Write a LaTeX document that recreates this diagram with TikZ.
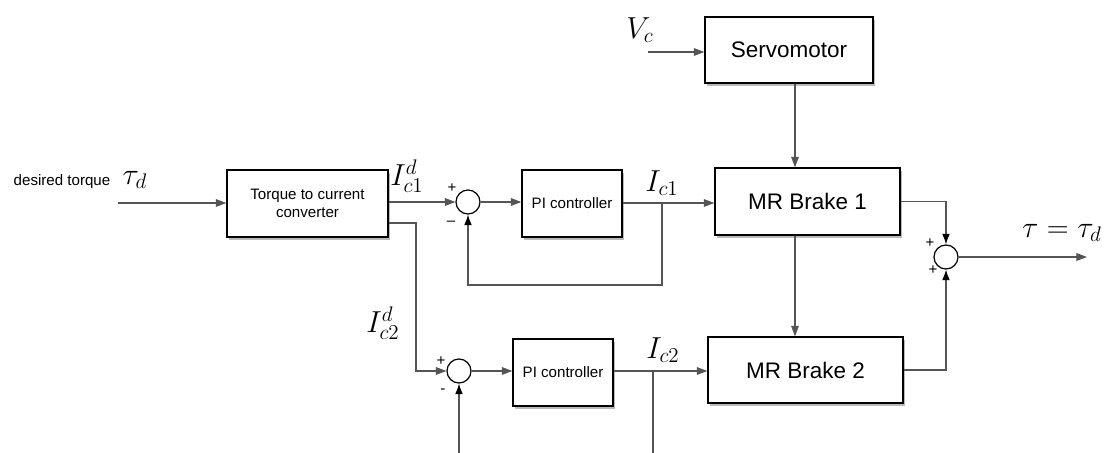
\documentclass[tikz,border=0pt]{standalone}
\usepackage[no-math]{fontspec}
\setmainfont{Liberation Sans}
\usepackage{amsmath,amssymb}
\usepackage{xcolor}
\usetikzlibrary{calc, arrows.meta, shadows, positioning}
\definecolor{wire}{HTML}{555555}
\begin{document}
\begin{tikzpicture}[x=0.02cm, y=-0.02cm,
  blk/.style={draw, line width=0.8pt, fill=white, align=center,
    drop shadow={shadow xshift=1.2pt, shadow yshift=-1.5pt, fill=black!45, opacity=0.6}},
  sumj/.style={draw, circle, line width=0.7pt, minimum size=0.48cm, inner sep=0pt, fill=white},
  sig/.style={draw=wire, line width=0.6pt, -{Triangle[length=6pt,width=4.4pt]}, color=wire},
  fb/.style={draw=wire, line width=0.6pt, -{Latex[length=6pt,width=4.4pt,color=black]}},
  small/.style={font=\fontsize{8.6}{10}\selectfont},
  big/.style={font=\fontsize{12.8}{15}\selectfont},
  mlab/.style={font=\fontsize{17.5}{20}\selectfont, inner sep=0pt}]
  \useasboundingbox (0,0) rectangle (1107,453);
  % Blocks
  \node[blk, big, minimum width=3.36cm, minimum height=1.32cm] (servo) at (789,50) {Servomotor};
  \node[blk, big, minimum width=3.7cm, minimum height=1.34cm] (brake1) at (807.5,201.5) {MR Brake 1};
  \node[blk, big, minimum width=3.9cm, minimum height=1.32cm] (brake2) at (805.5,370) {MR Brake 2};
  \node[blk, small, minimum width=3.22cm, minimum height=1.34cm] (conv) at (307.5,203.5) {Torque to current\\converter};
  \node[blk, small, minimum width=2cm, minimum height=1.34cm] (pi1) at (572,203.5) {PI controller};
  \node[blk, small, minimum width=2cm, minimum height=1.34cm] (pi2) at (563,372.5) {PI controller};
  % Summing junctions
  \node[sumj] (sum1) at (468,202) {};
  \node[sumj] (sum2) at (459,371) {};
  \node[sumj] (sum3) at (946,257) {};
  % Free ends and taps
  \coordinate (tin) at (118,203);
  \coordinate (vc) at (648,52);
  \coordinate (vx) at (795,0);
  \coordinate (k2) at (416,223);
  \coordinate (tap1) at (662,203);
  \coordinate (fb1) at (662,285);
  \coordinate (tap2) at (653,371);
  \coordinate (end2) at (653,453);
  \coordinate (fb2) at (459,453);
  \coordinate (tout) at (1087,257);
  % Signals
  \draw[sig] (tin) -- (conv.west |- tin);
  \draw[sig] (conv.east |- sum1) -- (sum1.west);
  \draw[sig] (sum1.east) -- (pi1.west |- sum1);
  \draw[sig] (pi1.east |- tap1) -- (brake1.west |- tap1);
  \draw[sig] (conv.east |- k2) -- (k2) |- (sum2.west);
  \draw[sig] (sum2.east) -- (pi2.west |- sum2);
  \draw[sig] (pi2.east |- tap2) -- (brake2.west |- tap2);
  \draw[sig] (vc) -- (servo.west |- vc);
  \draw[sig] (servo.south -| vx) -- (brake1.north -| vx);
  \draw[sig] (brake1.south -| vx) -- (brake2.north -| vx);
  \draw[fb] (brake1.east) -| (sum3.north);
  \draw[fb] (brake2.east) -| (sum3.south);
  \draw[sig] (sum3.east) -- (tout);
  % Feedback
  \draw[fb] (tap1) -- (fb1) -| (sum1.south);
  \draw[fb] (fb2) -- (sum2.south);
  \draw[draw=wire, line width=0.6pt] (tap2) -- (end2);
  % Labels
  \node[small] (ldes) at (62,182) {desired torque};
  \node[mlab] (ltd) at (135,180) {$\tau_d$};
  \node[mlab] (lvc) at (640,30) {$V_c$};
  \node[mlab] (lic1d) at (407,176) {$I_{c1}^{d}$};
  \node[mlab] (lic1) at (662,183) {$I_{c1}$};
  \node[mlab] (lic2d) at (383,323) {$I_{c2}^{d}$};
  \node[mlab] (lic2) at (663,350) {$I_{c2}$};
  \node[mlab] (lout) at (1062,233) {$\tau=\tau_d$};
  \node[small, inner sep=0pt] (p1) at (452,188) {+};
  \node[small, inner sep=0pt] (m1) at (451,223) {--};
  \node[small, inner sep=0pt] (p2) at (441,361) {+};
  \node[small, inner sep=0pt] (m2) at (443,391) {-};
  \node[small, inner sep=0pt] (p3) at (930,243) {+};
  \node[small, inner sep=0pt] (p4) at (933,270) {+};
\end{tikzpicture}
\end{document}
